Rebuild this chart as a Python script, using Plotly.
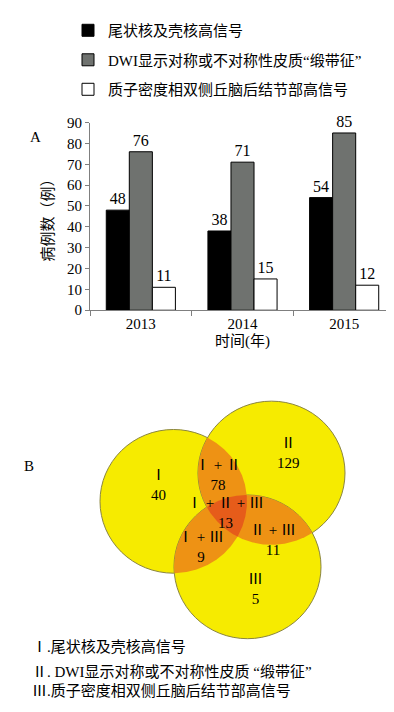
import numpy as np
import plotly.graph_objects as go

# ---------------- data ----------------
years = ["2013", "2014", "2015"]
series_names = ["尾状核及壳核高信号",
                "DWI显示对称或不对称性皮质“缎带征”",
                "质子密度相双侧丘脑后结节部高信号"]
caudate_putamen = [48, 38, 54]
cortical_ribbon = [76, 71, 85]
thalamus_pulvinar = [11, 15, 12]
y_ticks = [0, 10, 20, 30, 40, 50, 60, 70, 80, 90]

venn_labels = ["Ⅰ", "Ⅱ", "Ⅲ", "Ⅰ + Ⅱ", "Ⅰ + Ⅲ", "Ⅱ + Ⅲ", "Ⅰ + Ⅱ + Ⅲ"]
venn_counts = [40, 129, 5, 78, 9, 11, 13]
footnotes = ["Ⅰ.尾状核及壳核高信号",
             "Ⅱ. DWI显示对称或不对称性皮质 “缎带征”",
             "Ⅲ.质子密度相双侧丘脑后结节部高信号"]

# ---------------- style ----------------
W, H = 394, 712
FONT = "Liberation Serif, 'Times New Roman', 'Noto Sans CJK SC', serif"
AX = "#7f7f7f"
series_colors = ["#000000", "#6f726f", "#ffffff"]
YELLOW, ORANGE, RED = "#f6eb00", "#ee9214", "#e65c1a"

fig = go.Figure()

for name, vals, col in zip(series_names, [caudate_putamen, cortical_ribbon, thalamus_pulvinar], series_colors):
    fig.add_trace(go.Bar(
        x=years, y=vals, name=name, legendgroup=name,
        marker=dict(color=col, line=dict(color="#000000", width=1)),
        text=[str(v) for v in vals], textposition="outside",
        textfont=dict(family=FONT, size=16, color="#000"),
        cliponaxis=False, xaxis="x", yaxis="y"))

# ---------------- Venn geometry (layout, pixel-like units) ----------------
R = 73.5
centers = {"Ⅰ": (165.5, 215.5), "Ⅱ": (263.5, 244.5), "Ⅲ": (239.5, 148.5)}

def intersection_polygon(keys):
    pts = []
    t = np.linspace(0, 2 * np.pi, 1440, endpoint=False)
    for k in keys:
        cx, cy = centers[k]
        px, py = cx + R * np.cos(t), cy + R * np.sin(t)
        ok = np.ones_like(px, dtype=bool)
        for o in keys:
            if o == k:
                continue
            ox, oy = centers[o]
            ok &= (px - ox) ** 2 + (py - oy) ** 2 <= R ** 2 + 1e-6
        pts.append(np.column_stack([px[ok], py[ok]]))
    pts = np.vstack(pts)
    m = pts.mean(axis=0)
    ang = np.arctan2(pts[:, 1] - m[1], pts[:, 0] - m[0])
    pts = pts[np.argsort(ang)]
    pts = np.vstack([pts, pts[:1]])
    return pts[:, 0], pts[:, 1]

shapes = []
for k, (cx, cy) in centers.items():
    shapes.append(dict(type="circle", xref="x2", yref="y2", layer="below",
                       x0=cx - R, x1=cx + R, y0=cy - R, y1=cy + R,
                       fillcolor=YELLOW, line=dict(color="#8a8540", width=1)))

for keys, col in [(("Ⅰ", "Ⅱ"), ORANGE), (("Ⅰ", "Ⅲ"), ORANGE), (("Ⅱ", "Ⅲ"), ORANGE), (("Ⅰ", "Ⅱ", "Ⅲ"), RED)]:
    px, py = intersection_polygon(keys)
    fig.add_trace(go.Scatter(x=px, y=py, mode="lines", fill="toself", fillcolor=col,
                             line=dict(width=0, color=col), hoverinfo="skip",
                             showlegend=False, xaxis="x2", yaxis="y2"))

label_pos = [(150, 232), (280, 265), (247, 126), (210, 242), (193, 169), (265, 176), (217, 204)]
annotations = []
for lab, cnt, (lx, ly) in zip(venn_labels, venn_counts, label_pos):
    annotations.append(dict(x=lx, y=ly, xref="x2", yref="y2", showarrow=False,
                            xanchor="center", yanchor="middle",
                            text=f"{lab}<br>{cnt}", align="center",
                            font=dict(family=FONT, size=15, color="#000")))

annotations.append(dict(x=27 / W, y=1 - 124 / H, xref="paper", yref="paper", showarrow=False,
                        xanchor="center", yanchor="middle",
                        text="A", font=dict(family=FONT, size=15, color="#000")))
annotations.append(dict(x=21 / W, y=1 - 460 / H, xref="paper", yref="paper", showarrow=False,
                        xanchor="center", yanchor="middle",
                        text="B", font=dict(family=FONT, size=15, color="#000")))
for txt, py in zip(footnotes, [646, 671, 691]):
    annotations.append(dict(x=22 / W, y=1 - py / H, xref="paper", yref="paper", showarrow=False,
                            xanchor="left", yanchor="middle", text=txt,
                            font=dict(family=FONT, size=15, color="#000")))

fig.update_layout(
    width=W, height=H, margin=dict(l=0, r=0, t=0, b=0),
    paper_bgcolor="white", plot_bgcolor="rgba(0,0,0,0)",
    font=dict(family=FONT, size=15, color="#000"),
    barmode="group", bargap=0.32, bargroupgap=0,
    showlegend=True,
    legend=dict(x=60 / W, y=1 + 2 / H, xanchor="left", yanchor="top",
                traceorder="grouped", tracegroupgap=7, itemwidth=30,
                font=dict(family=FONT, size=15, color="#000"),
                bgcolor="rgba(0,0,0,0)"),
    xaxis=dict(domain=[82 / W, 387 / W], anchor="y", type="category",
               showline=True, linecolor=AX, linewidth=1,
               ticks="outside", tickson="boundaries", ticklen=5, tickcolor=AX,
               tickfont=dict(family=FONT, size=15),
               title=dict(text="时间(年)", standoff=4, font=dict(family=FONT, size=15)),
               showgrid=False, zeroline=False, fixedrange=True),
    yaxis=dict(domain=[1 - 301 / H, 1 - 109 / H], anchor="x", range=[0, 90],
               tickvals=y_ticks, showline=True, linecolor=AX, linewidth=1,
               ticks="outside", ticklen=4, tickcolor=AX,
               tickfont=dict(family=FONT, size=15),
               title=dict(text="病例数（例）", standoff=9, font=dict(family=FONT, size=15)),
               showgrid=False, zeroline=False, fixedrange=True),
    xaxis2=dict(domain=[0, 1], anchor="y2", range=[0, W], visible=False, fixedrange=True),
    yaxis2=dict(domain=[0, 0.46], anchor="x2", range=[0, 0.46 * H], visible=False, fixedrange=True),
    shapes=shapes, annotations=annotations,
)

fig.write_html("out.html")
